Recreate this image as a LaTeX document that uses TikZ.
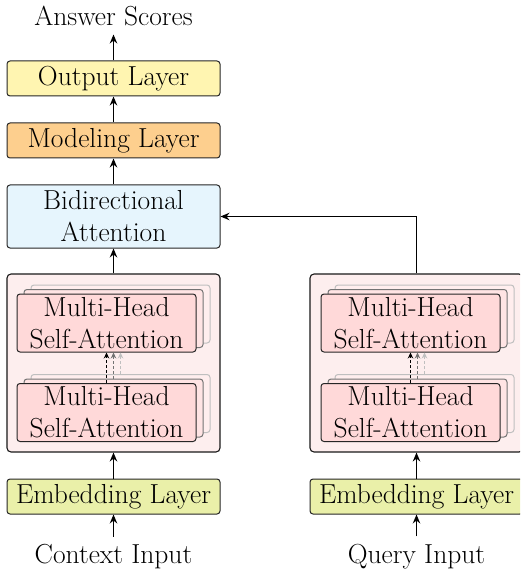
\documentclass[tikz,border=0pt]{standalone}
\usetikzlibrary{arrows.meta}
\definecolor{outfill}{HTML}{FFF5B1}
\definecolor{modfill}{HTML}{FDCF8E}
\definecolor{bidfill}{HTML}{E6F5FD}
\definecolor{encfill}{HTML}{FDEEEE}
\definecolor{mhafill}{HTML}{FFD9D9}
\definecolor{embfill}{HTML}{EAF0A9}
\tikzset{
  txt/.style={font=\fontsize{27.5}{32}\selectfont},
  layer/.style={txt, draw=black!85, line width=1pt, rounded corners=3pt,
    minimum width=213pt, inner sep=0pt, align=center},
  encbox/.style={draw=black!90, line width=1.1pt, rounded corners=4pt,
    fill=encfill, minimum width=213pt, minimum height=178pt, inner sep=0pt},
  mha/.style={txt, draw=black!85, line width=1pt, rounded corners=3pt,
    fill=mhafill, minimum width=179pt, minimum height=58pt, inner sep=0pt,
    align=center},
  mhaback/.style={mha, draw=black!55, fill=mhafill!70!white},
  mhafar/.style={mha, draw=black!25, fill=mhafill!45!white},
  lbl/.style={txt, inner sep=0pt},
  arr/.style={-{Stealth[length=9pt,width=7.5pt,inset=3pt]}, line width=1.2pt},
  darr/.style={-{Stealth[length=6pt,width=5.5pt,inset=2pt]}, line width=0.9pt,
    dash pattern=on 3pt off 2pt},
}
\begin{document}
\begin{tikzpicture}[x=1pt,y=-1pt]
\useasboundingbox (0,0) rectangle (520,577);
\clip (0,0) rectangle (520,577);

% context branch and output stack
\node[lbl] (ans) at (113.5,16) {Answer Scores};
\node[layer, fill=outfill, minimum height=35pt] (out) at (113.5,78.5) {Output Layer};
\node[layer, fill=modfill, minimum height=35pt] (mod) at (113.5,140.5) {Modeling Layer};
\node[layer, fill=bidfill, minimum height=63pt] (bid) at (113.5,216.5) {Bidirectional\\Attention};
\node[encbox] (encL) at (113.5,363) {};
\node[mhafar]  (aL1c) at (120.5,314) {};
\node[mhaback] (aL1b) at (113.5,318.5) {};
\node[mha]     (aL1)  at (106.5,323) {Multi-Head\\Self-Attention};
\node[mhafar]  (aL2c) at (120.5,403.5) {};
\node[mhaback] (aL2b) at (113.5,408) {};
\node[mha]     (aL2)  at (106.5,412.5) {Multi-Head\\Self-Attention};
\node[layer, fill=embfill, minimum height=35pt] (embL) at (113.5,496.5) {Embedding Layer};
\node[lbl] (ctx) at (113.5,557) {Context Input};

% query branch
\node[encbox] (encR) at (416.5,363) {};
\node[mhafar]  (aR1c) at (424.5,314) {};
\node[mhaback] (aR1b) at (417.5,318.5) {};
\node[mha]     (aR1)  at (410.5,323) {Multi-Head\\Self-Attention};
\node[mhafar]  (aR2c) at (424.5,403.5) {};
\node[mhaback] (aR2b) at (417.5,408) {};
\node[mha]     (aR2)  at (410.5,412.5) {Multi-Head\\Self-Attention};
\node[layer, fill=embfill, minimum height=35pt] (embR) at (416.5,496.5) {Embedding Layer};
\node[lbl] (qry) at (416.5,557) {Query Input};

% main connectors
\draw[arr] (out.north) -- ++(0,-26);
\draw[arr] (mod.north) -- (out.south);
\draw[arr] (bid.north) -- (mod.south);
\draw[arr] (encL.north) -- (bid.south);
\draw[arr] (embL.north) -- (encL.south);
\draw[arr] (ctx.north) ++(0,-8) -- (embL.south);
\draw[arr] (embR.north) -- (encR.south);
\draw[arr] (qry.north) ++(0,-8) -- (embR.south);
\draw[arr] (encR.north) |- (bid.east);

% stacked attention heads
\foreach \lo/\hi in {aL2/aL1, aR2/aR1}{
  \draw[darr, black!25] (\lo c.north) -- ([xshift=14pt]\hi.south);
  \draw[darr, black!55] (\lo b.north) -- ([xshift=7pt]\hi.south);
  \draw[darr, black] (\lo.north) -- (\hi.south);
}
\end{tikzpicture}
\end{document}
